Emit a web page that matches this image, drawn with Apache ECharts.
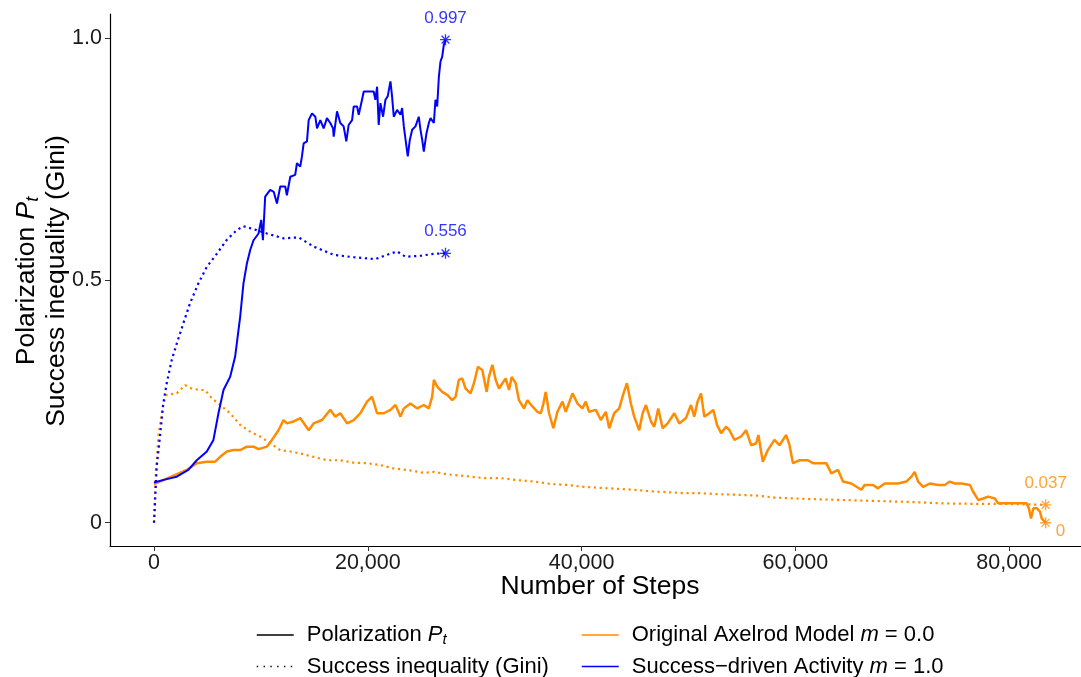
<!DOCTYPE html>
<html>
<head>
<meta charset="utf-8">
<script src="https://cdn.jsdelivr.net/npm/echarts@6/dist/echarts.min.js"></script>
<style>
  html, body { margin: 0; padding: 0; background: #ffffff; }
  #chart { width: 1081px; height: 677px; }
</style>
</head>
<body>
<div id="chart"></div>
<script>
// [step, value] pairs for each run
const successDrivenPolarization = [
  [0, 0.083], [1190, 0.090], [2130, 0.095], [3210, 0.109], [4000, 0.129], [4940, 0.147],
  [5560, 0.171], [6030, 0.226], [6500, 0.274], [7120, 0.301], [7590, 0.343], [8060, 0.425],
  [8370, 0.494], [8690, 0.535], [9000, 0.563], [9310, 0.583], [9780, 0.597], [10030, 0.625],
  [10190, 0.583], [10400, 0.673], [10870, 0.687], [11200, 0.683], [11500, 0.659], [11810, 0.694],
  [12280, 0.694], [12430, 0.676], [12750, 0.714], [13210, 0.718], [13370, 0.742], [13680, 0.735],
  [13840, 0.756], [14000, 0.783], [14310, 0.787], [14470, 0.831], [14780, 0.845], [15090, 0.838],
  [15250, 0.814], [15560, 0.831], [15870, 0.814], [16180, 0.835], [16490, 0.825], [16750, 0.814],
  [16810, 0.797], [17120, 0.849], [17430, 0.825], [17740, 0.818], [17990, 0.787], [18210, 0.821],
  [18530, 0.831], [18680, 0.859], [19000, 0.859], [19150, 0.842], [19460, 0.873], [19620, 0.890],
  [20550, 0.890], [20710, 0.873], [20870, 0.900], [21020, 0.821], [21180, 0.866], [21430, 0.838],
  [21650, 0.873], [21860, 0.880], [22120, 0.911], [22270, 0.880], [22430, 0.838], [22740, 0.852],
  [23060, 0.842], [23210, 0.856], [23370, 0.818], [23620, 0.776], [23740, 0.756], [23930, 0.790],
  [24150, 0.811], [24460, 0.818], [24770, 0.838], [24930, 0.811], [25090, 0.790], [25240, 0.766],
  [25490, 0.804], [25710, 0.825], [25870, 0.835], [26180, 0.825], [26330, 0.873], [26490, 0.859],
  [26650, 0.921], [26800, 0.952], [26960, 0.962], [27110, 0.986], [27270, 0.997]
];

const successDrivenGini = [
  [0, 0], [90, 0.040], [250, 0.116], [560, 0.178], [870, 0.246], [1190, 0.288], [1660, 0.336],
  [2130, 0.370], [2750, 0.412], [3370, 0.453], [4150, 0.494], [4940, 0.528], [5870, 0.555],
  [6810, 0.584], [7750, 0.604], [8370, 0.612], [9310, 0.606], [10560, 0.597], [12120, 0.587],
  [13530, 0.589], [14930, 0.570], [16810, 0.553], [18680, 0.548], [20710, 0.544], [21810, 0.553],
  [22740, 0.560], [23520, 0.549], [24930, 0.551], [26180, 0.555], [27270, 0.556]
];

const axelrodPolarization = [
  [0, 0.080], [1500, 0.094], [3060, 0.109], [4000, 0.123], [4940, 0.126], [5720, 0.126],
  [6190, 0.136], [6810, 0.147], [7430, 0.150], [8060, 0.150], [8690, 0.157], [9310, 0.157],
  [9780, 0.152], [10560, 0.157], [11030, 0.171], [11650, 0.191], [12120, 0.212], [12430, 0.205],
  [13060, 0.209], [13680, 0.216], [14470, 0.191], [14930, 0.205], [15720, 0.212], [16490, 0.233],
  [16960, 0.219], [17430, 0.226], [18060, 0.205], [18680, 0.212], [19310, 0.226], [19930, 0.250],
  [20400, 0.260], [20870, 0.226], [21490, 0.226], [22120, 0.233], [22590, 0.243], [23060, 0.219],
  [23370, 0.236], [23990, 0.246], [24620, 0.236], [25240, 0.243], [25710, 0.236], [26020, 0.260],
  [26180, 0.295], [26490, 0.281], [26960, 0.270], [27430, 0.264], [27900, 0.253], [28210, 0.260],
  [28520, 0.295], [28830, 0.298], [29150, 0.277], [29610, 0.267], [29930, 0.288], [30300, 0.322],
  [30710, 0.315], [31120, 0.270], [31330, 0.301], [31650, 0.326], [31960, 0.295], [32270, 0.277],
  [32590, 0.288], [32900, 0.298], [33210, 0.274], [33460, 0.301], [33830, 0.288], [34140, 0.253],
  [34610, 0.236], [34930, 0.253], [35400, 0.240], [35870, 0.229], [36180, 0.226], [36430, 0.246],
  [36640, 0.270], [36960, 0.226], [37360, 0.195], [37740, 0.229], [38210, 0.250], [38520, 0.229],
  [39150, 0.267], [39620, 0.246], [40080, 0.236], [40390, 0.250], [40700, 0.229], [41330, 0.233],
  [41800, 0.212], [42270, 0.229], [42580, 0.195], [43050, 0.226], [43520, 0.236], [43920, 0.267],
  [44240, 0.288], [44610, 0.246], [44920, 0.219], [45390, 0.191], [45710, 0.226], [46020, 0.243],
  [46490, 0.209], [46800, 0.198], [47170, 0.236], [47580, 0.195], [48050, 0.205], [48670, 0.226],
  [49140, 0.205], [49760, 0.216], [50230, 0.243], [50540, 0.219], [50850, 0.250], [51170, 0.267],
  [51480, 0.219], [51950, 0.226], [52320, 0.233], [52670, 0.202], [53050, 0.185], [53520, 0.198],
  [53830, 0.191], [54300, 0.171], [54920, 0.178], [55390, 0.191], [55860, 0.160], [56330, 0.164],
  [56540, 0.181], [56950, 0.126], [57420, 0.150], [58040, 0.171], [58510, 0.160], [59140, 0.181],
  [59450, 0.160], [59770, 0.123], [60390, 0.129], [61170, 0.129], [61640, 0.123], [62260, 0.123],
  [62890, 0.123], [63360, 0.102], [63990, 0.109], [64450, 0.085], [65230, 0.081], [66170, 0.068],
  [66480, 0.078], [67260, 0.078], [67730, 0.071], [68350, 0.081], [69600, 0.081], [70380, 0.085],
  [70850, 0.095], [71160, 0.105], [71480, 0.085], [71950, 0.074], [72570, 0.081], [73350, 0.078],
  [73980, 0.078], [74440, 0.085], [74910, 0.081], [75540, 0.081], [76320, 0.078], [76630, 0.064],
  [77100, 0.047], [77570, 0.050], [78040, 0.054], [78660, 0.050], [78970, 0.040], [81630, 0.040],
  [81840, 0.030], [82040, 0.009], [82260, 0.030], [82570, 0.030], [82880, 0.023], [83040, 0.009],
  [83410, 0]
];

const axelrodGini = [
  [0, 0], [150, 0.090], [400, 0.178], [870, 0.246], [1190, 0.264], [2130, 0.267], [2900, 0.284],
  [3530, 0.277], [4310, 0.274], [4780, 0.274], [5400, 0.257], [6190, 0.243], [7120, 0.226],
  [8060, 0.202], [9000, 0.188], [9930, 0.178], [10870, 0.164], [11810, 0.150], [12750, 0.147],
  [13680, 0.143], [14930, 0.136], [16180, 0.129], [17430, 0.129], [18680, 0.124], [19930, 0.123],
  [21180, 0.119], [22430, 0.112], [23680, 0.109], [25240, 0.103], [26180, 0.105], [27430, 0.100],
  [29300, 0.096], [30870, 0.092], [32430, 0.092], [33990, 0.088], [35550, 0.085], [37110, 0.080],
  [38680, 0.078], [40240, 0.074], [41800, 0.072], [43360, 0.070], [44920, 0.068], [46490, 0.065],
  [48050, 0.063], [49610, 0.061], [51170, 0.061], [52740, 0.059], [54300, 0.058], [56490, 0.056],
  [58040, 0.052], [61170, 0.049], [64290, 0.047], [67420, 0.045], [70540, 0.043], [73660, 0.040],
  [76790, 0.039], [79290, 0.039], [81470, 0.038], [83410, 0.037]
];

const xTicks = [0, 20000, 40000, 60000, 80000];
const yTicks = [0, 0.5, 1.0];

const FONT = '"Liberation Sans", Arial, Helvetica, sans-serif';
const BLUE = '#0000FF';
const ORANGE = '#FF8C00';
const DOTS = [2.2, 3.6];

const legendText = {
  'Polarization': 'Polarization {i|P}{s|t}',
  'Success inequality (Gini)': 'Success inequality (Gini)',
  'Original Axelrod Model': 'Original Axelrod Model {i|m} = 0.0',
  'Success-driven Activity': 'Success\u2212driven Activity {i|m} = 1.0'
};

// asterisk marker (+ and x overlaid)
const STAR = 'path://M5,0L5,10M0,5L10,5M1.46,1.46L8.54,8.54M1.46,8.54L8.54,1.46';

function lastPoint(arr) { return arr[arr.length - 1]; }

function endMark(arr, color, labelPos) {
  const p = lastPoint(arr);
  const lab = labelPos === 'right'
    ? { position: 'right', distance: 4, offset: [0, 9] }
    : { position: 'top', distance: 7 };
  return {
    value: p,
    itemStyle: { color: 'rgba(0,0,0,0)', borderColor: color, borderWidth: 1.3 },
    label: Object.assign({ show: true, color: color, fontSize: 17, fontFamily: FONT,
      formatter: (d) => String(d.value[1]) }, lab)
  };
}

const legendTextStyle = {
  fontSize: 22, fontFamily: FONT, color: '#000', lineHeight: 24, padding: [0, 0, 0, 8],
  rich: {
    i: { fontSize: 22, fontFamily: FONT, fontStyle: 'italic', color: '#000', lineHeight: 24 },
    s: { fontSize: 15, fontFamily: FONT, fontStyle: 'italic', color: '#000', lineHeight: 15, verticalAlign: 'bottom' }
  }
};

// one legend component per entry so the two columns line up
function legendEntry(left, rowCenter, name) {
  return {
    orient: 'horizontal', left: left, top: rowCenter - 12, padding: 0,
    itemWidth: 37, itemHeight: 24, selectedMode: false, data: [name],
    itemStyle: { opacity: 0 },
    lineStyle: { width: 1.5 },
    textStyle: legendTextStyle,
    formatter: (n) => legendText[n]
  };
}

const chart = echarts.init(document.getElementById('chart'), null, { renderer: 'canvas' });

chart.setOption({
  animation: false,
  backgroundColor: '#ffffff',
  grid: { left: 110, right: 0, top: 14, bottom: 131, containLabel: false },
  xAxis: {
    type: 'value', min: -4116, max: 86717,
    axisLine: { show: true, onZero: false, lineStyle: { color: '#000', width: 1.2 } },
    axisTick: { show: true, customValues: xTicks, length: 5, lineStyle: { color: '#333', width: 1 } },
    axisLabel: {
      customValues: xTicks, fontSize: 21.5, fontFamily: FONT, color: '#1a1a1a', margin: 6,
      formatter: (v) => v.toLocaleString('en-US')
    },
    splitLine: { show: false }
  },
  yAxis: {
    type: 'value', min: -0.048, max: 1.05,
    axisLine: { show: true, onZero: false, lineStyle: { color: '#000', width: 1.2 } },
    axisTick: { show: true, customValues: yTicks, length: 5, lineStyle: { color: '#333', width: 1 } },
    axisLabel: {
      customValues: yTicks, fontSize: 21.5, fontFamily: FONT, color: '#1a1a1a', margin: 8,
      formatter: (v) => (v === 0 ? '0' : v.toFixed(1))
    },
    splitLine: { show: false }
  },
  legend: [
    legendEntry(256, 635, 'Polarization'),
    legendEntry(256, 666.5, 'Success inequality (Gini)'),
    legendEntry(581, 635, 'Original Axelrod Model'),
    legendEntry(581, 666.5, 'Success-driven Activity')
  ],
  graphic: [
    {
      type: 'text', x: 600, y: 587, silent: true,
      style: { text: 'Number of Steps', fill: '#000', font: '26.5px ' + FONT, align: 'center', verticalAlign: 'middle' }
    },
    {
      type: 'text', x: 42, y: 281, rotation: Math.PI / 2, silent: true,
      style: {
        text: '{n|Polarization }{i|P}{s|t}\n{n|Success inequality (Gini)}',
        align: 'center', verticalAlign: 'middle', fill: '#000', font: '26.5px ' + FONT,
        rich: {
          n: { fontSize: 26.5, fontFamily: FONT, fill: '#000', lineHeight: 30 },
          i: { fontSize: 26.5, fontFamily: FONT, fontStyle: 'italic', fill: '#000', lineHeight: 30 },
          s: { fontSize: 18, fontFamily: FONT, fontStyle: 'italic', fill: '#000', lineHeight: 17, verticalAlign: 'bottom' }
        }
      }
    }
  ],
  series: [
    { name: 'Polarization', type: 'line', data: [], symbol: 'none', color: '#000',
      lineStyle: { color: '#000', width: 1.5, type: 'solid' } },
    { name: 'Success inequality (Gini)', type: 'line', data: [], symbol: 'none', color: '#000',
      lineStyle: { color: '#000', width: 1.5, type: [1.4, 5.4] } },
    { name: 'Original Axelrod Model', type: 'line', data: axelrodPolarization, symbol: 'none', color: ORANGE,
      lineStyle: { color: ORANGE, width: 2.5 }, z: 2 },
    { name: 'Original Axelrod Model', type: 'line', data: axelrodGini, symbol: 'none', color: ORANGE,
      lineStyle: { color: ORANGE, width: 2.2, type: DOTS }, z: 2 },
    { name: 'Success-driven Activity', type: 'line', data: successDrivenPolarization, symbol: 'none', color: BLUE,
      lineStyle: { color: BLUE, width: 2 }, z: 3 },
    { name: 'Success-driven Activity', type: 'line', data: successDrivenGini, symbol: 'none', color: BLUE,
      lineStyle: { color: BLUE, width: 2.2, type: DOTS }, z: 3 },
    { name: 'end values', type: 'scatter', symbol: STAR, symbolSize: 11, z: 5, silent: true,
      data: [
        endMark(successDrivenPolarization, BLUE, 'top'),
        endMark(successDrivenGini, BLUE, 'top'),
        endMark(axelrodGini, ORANGE, 'top'),
        endMark(axelrodPolarization, ORANGE, 'right')
      ] }
  ]
});
</script>
</body>
</html>
